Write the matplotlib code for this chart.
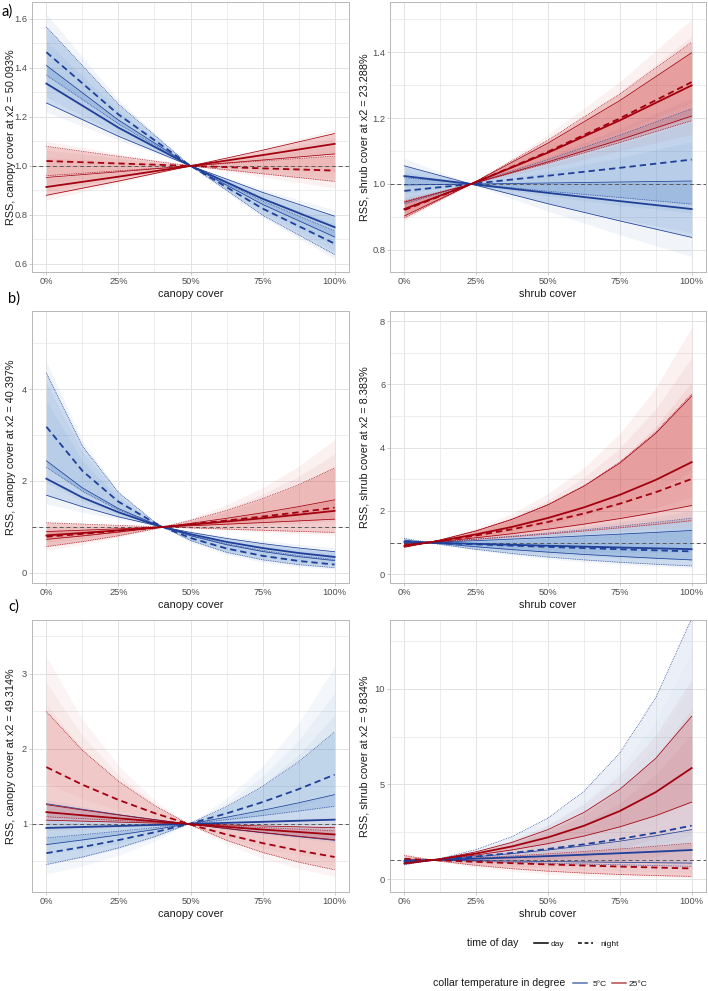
import numpy as np
import matplotlib.pyplot as plt
from matplotlib.lines import Line2D

plt.rcParams['font.family'] = ['Liberation Sans', 'DejaVu Sans']

X5 = [0, 25, 50, 75, 100]
X9 = [0, 12.5, 25, 37.5, 50, 62.5, 75, 87.5, 100]

# each group: [mean, quantile line 1, quantile line 2]; env: [lower, upper] of the bootstrap fan
# a) canopy, x2 = 50.093
a_can_blue_day = [[1.336, 1.156, 1.0, 0.866, 0.750], [1.410, 1.187, 1.0, 0.843, 0.710], [1.257, 1.121, 1.0, 0.892, 0.795]]
a_can_blue_night = [[1.464, 1.210, 1.0, 0.826, 0.683], [1.567, 1.252, 1.0, 0.799, 0.638], [1.371, 1.171, 1.0, 0.857, 0.735]]
a_can_red_day = [[0.914, 0.956, 1.0, 1.044, 1.090], [0.880, 0.938, 1.0, 1.064, 1.132], [0.953, 0.976, 1.0, 1.024, 1.049]]
a_can_red_night = [[1.020, 1.010, 1.0, 0.990, 0.981], [1.080, 1.039, 1.0, 0.968, 0.937], [0.960, 0.980, 1.0, 1.020, 1.040]]
a_can_blue_env = [[1.22, 1.105, 1.0, 0.79, 0.62], [1.62, 1.27, 1.0, 0.905, 0.82]]
a_can_red_env = [[0.86, 0.93, 1.0, 0.955, 0.91], [1.10, 1.05, 1.0, 1.07, 1.15]]

# a) shrub, x2 = 23.288
a_shr_blue_day = [[1.024, 0.998, 0.973, 0.948, 0.924], [1.055, 0.996, 0.940, 0.888, 0.838], [0.997, 1.000, 1.003, 1.006, 1.009]]
a_shr_blue_night = [[0.979, 1.002, 1.025, 1.049, 1.074], [0.940, 1.005, 1.074, 1.148, 1.228], [1.019, 0.999, 0.978, 0.959, 0.939]]
a_shr_red_day = [[0.924, 1.006, 1.095, 1.193, 1.299], [0.903, 1.008, 1.124, 1.253, 1.398], [0.945, 1.004, 1.067, 1.134, 1.206]]
a_shr_red_night = [[0.921, 1.006, 1.098, 1.199, 1.309], [0.897, 1.008, 1.133, 1.273, 1.430], [0.948, 1.004, 1.063, 1.126, 1.192]]
a_shr_blue_env = [[0.93, 0.994, 0.917, 0.846, 0.78], [1.078, 1.006, 1.083, 1.169, 1.26]]
a_shr_red_env = [[0.89, 1.003, 1.05, 1.10, 1.15], [0.96, 1.01, 1.15, 1.31, 1.50]]

# b) canopy, x2 = 40.397
b_can_blue_day = [[2.05, 1.64, 1.32, 1.05, 0.843, 0.675, 0.541, 0.433, 0.347],
                  [2.44, 1.85, 1.40, 1.07, 0.809, 0.614, 0.466, 0.353, 0.268],
                  [1.69, 1.44, 1.22, 1.04, 0.882, 0.750, 0.638, 0.542, 0.461]]
b_can_blue_night = [[3.18, 2.22, 1.55, 1.09, 0.760, 0.531, 0.371, 0.260, 0.181],
                    [4.35, 2.76, 1.75, 1.11, 0.705, 0.447, 0.284, 0.180, 0.114],
                    [2.30, 1.78, 1.37, 1.06, 0.820, 0.634, 0.490, 0.379, 0.293]]
b_can_red_day = [[0.816, 0.869, 0.925, 0.986, 1.049, 1.118, 1.190, 1.267, 1.350],
                 [0.730, 0.805, 0.887, 0.978, 1.078, 1.188, 1.309, 1.442, 1.590],
                 [0.899, 0.929, 0.960, 0.992, 1.026, 1.060, 1.095, 1.132, 1.170]]
b_can_red_night = [[0.788, 0.849, 0.913, 0.983, 1.058, 1.139, 1.226, 1.319, 1.420],
                   [0.572, 0.680, 0.808, 0.961, 1.142, 1.357, 1.614, 1.918, 2.280],
                   [1.090, 1.062, 1.034, 1.006, 0.980, 0.954, 0.928, 0.904, 0.880]]
b_can_blue_env = [[1.50, 1.32, 1.17, 1.03, 0.666, 0.392, 0.231, 0.136, 0.080],
                  [4.60, 2.87, 1.79, 1.12, 0.908, 0.800, 0.707, 0.624, 0.550]]
b_can_red_env = [[0.50, 0.62, 0.768, 0.951, 0.968, 0.929, 0.891, 0.855, 0.820],
                 [1.12, 1.081, 1.044, 1.008, 1.187, 1.484, 1.855, 2.32, 2.90]]

# b) shrub, x2 = 8.383
b_shr_blue_day = [[1.022, 0.989, 0.958, 0.928, 0.898, 0.870, 0.842, 0.816, 0.790],
                  [1.076, 0.965, 0.865, 0.776, 0.696, 0.624, 0.560, 0.502, 0.450],
                  [0.971, 1.015, 1.060, 1.108, 1.158, 1.210, 1.264, 1.320, 1.380]]
b_shr_blue_night = [[1.031, 0.985, 0.942, 0.901, 0.861, 0.824, 0.788, 0.753, 0.720],
                    [1.131, 0.941, 0.783, 0.652, 0.542, 0.451, 0.375, 0.313, 0.260],
                    [0.949, 1.026, 1.109, 1.199, 1.296, 1.401, 1.515, 1.637, 1.770]]
b_shr_red_day = [[0.891, 1.058, 1.258, 1.494, 1.776, 2.110, 2.507, 2.979, 3.540],
                 [0.854, 1.081, 1.368, 1.732, 2.190, 2.780, 3.510, 4.450, 5.630],
                 [0.932, 1.035, 1.151, 1.279, 1.422, 1.581, 1.757, 1.952, 2.170]]
b_shr_red_night = [[0.904, 1.051, 1.221, 1.419, 1.650, 1.917, 2.228, 2.590, 3.010],
                   [0.853, 1.081, 1.371, 1.738, 2.203, 2.793, 3.540, 4.490, 5.690],
                   [0.953, 1.024, 1.100, 1.182, 1.269, 1.363, 1.464, 1.573, 1.690]]
b_shr_blue_env = [[0.939, 0.930, 0.747, 0.600, 0.481, 0.387, 0.310, 0.249, 0.200],
                  [1.159, 1.032, 1.134, 1.246, 1.370, 1.506, 1.655, 1.820, 2.000]]
b_shr_red_env = [[0.829, 1.018, 1.076, 1.138, 1.202, 1.271, 1.343, 1.419, 1.500],
                 [0.964, 1.097, 1.451, 1.921, 2.543, 3.365, 4.450, 5.890, 7.800]]

# c) canopy, x2 = 49.314
c_can_blue_day = [[0.947, 0.960, 0.973, 0.987, 1.001, 1.015, 1.029, 1.043, 1.058],
                  [0.725, 0.787, 0.854, 0.926, 1.004, 1.090, 1.182, 1.282, 1.391],
                  [1.270, 1.196, 1.125, 1.059, 0.997, 0.938, 0.883, 0.831, 0.782]]
c_can_blue_night = [[0.611, 0.693, 0.785, 0.889, 1.007, 1.141, 1.292, 1.464, 1.658],
                    [0.459, 0.559, 0.681, 0.830, 1.011, 1.232, 1.500, 1.828, 2.227],
                    [0.814, 0.857, 0.903, 0.952, 1.003, 1.057, 1.113, 1.173, 1.236]]
c_can_red_day = [[1.158, 1.116, 1.075, 1.036, 0.998, 0.962, 0.926, 0.893, 0.860],
                 [1.258, 1.187, 1.120, 1.056, 0.997, 0.941, 0.887, 0.837, 0.790],
                 [1.051, 1.038, 1.025, 1.012, 0.999, 0.987, 0.974, 0.962, 0.950]]
c_can_red_night = [[1.758, 1.524, 1.321, 1.145, 0.992, 0.860, 0.745, 0.646, 0.560],
                   [2.499, 1.982, 1.571, 1.245, 0.987, 0.783, 0.621, 0.492, 0.390],
                   [1.096, 1.071, 1.046, 1.022, 0.999, 0.976, 0.953, 0.931, 0.910]]
c_can_blue_env = [[0.333, 0.440, 0.581, 0.768, 0.996, 0.928, 0.864, 0.805, 0.750],
                  [1.323, 1.232, 1.148, 1.069, 1.015, 1.342, 1.774, 2.345, 3.100]]
c_can_red_env = [[0.911, 0.933, 0.955, 0.978, 0.984, 0.731, 0.543, 0.404, 0.300],
                 [3.23, 2.40, 1.78, 1.32, 1.001, 1.025, 1.049, 1.074, 1.100]]

# c) shrub, x2 = 9.834
c_shr_blue_day = [[0.955, 1.013, 1.074, 1.139, 1.209, 1.282, 1.360, 1.442, 1.530],
                  [0.901, 1.029, 1.174, 1.341, 1.531, 1.747, 1.995, 2.277, 2.600],
                  [1.019, 0.995, 0.971, 0.948, 0.925, 0.903, 0.882, 0.861, 0.840]]
c_shr_blue_night = [[0.893, 1.031, 1.190, 1.373, 1.585, 1.829, 2.110, 2.435, 2.810],
                    [0.752, 1.081, 1.553, 2.232, 3.209, 4.613, 6.630, 9.530, 13.70],
                    [1.045, 0.988, 0.935, 0.884, 0.837, 0.791, 0.749, 0.708, 0.670]]
c_shr_red_day = [[0.825, 1.054, 1.346, 1.718, 2.195, 2.803, 3.580, 4.572, 5.840],
                 [0.791, 1.066, 1.435, 1.932, 2.603, 3.504, 4.720, 6.350, 8.560],
                 [0.858, 1.042, 1.265, 1.536, 1.865, 2.264, 2.748, 3.336, 4.050]]
c_shr_red_night = [[1.065, 0.983, 0.907, 0.837, 0.772, 0.713, 0.658, 0.607, 0.560],
                   [1.239, 0.943, 0.718, 0.547, 0.416, 0.317, 0.241, 0.184, 0.140],
                   [0.933, 1.019, 1.113, 1.216, 1.328, 1.450, 1.584, 1.730, 1.890]]
c_shr_blue_env = [[0.75, 0.965, 0.817, 0.691, 0.585, 0.495, 0.419, 0.355, 0.300],
                  [1.14, 1.081, 1.559, 2.247, 3.24, 4.67, 6.73, 9.71, 14.0]]
c_shr_red_env = [[0.774, 0.915, 0.604, 0.399, 0.263, 0.174, 0.115, 0.076, 0.050],
                 [1.386, 1.072, 1.485, 2.057, 2.85, 3.948, 5.47, 7.58, 10.5]]

x_ticks = [0, 25, 50, 75, 100]
x_ticklabels = ["0%", "25%", "50%", "75%", "100%"]

BLUE = "#1f3f98"
RED = "#a3000f"
BLUE_FILL = "#3b78c2"
RED_FILL = "#cf3a3a"
GRID = "#e3e3e3"
BORDER = "#b8b8b8"
TXT = "#1a1a1a"


def with_ref(xs, ys, x2):
    xx = np.array(list(xs) + [x2])
    yy = np.array(list(ys) + [1.0])
    o = np.argsort(xx, kind="stable")
    return xx[o], yy[o]


def draw_panel(ax, xs, x2, blue_day, blue_night, red_day, red_night, blue_env, red_env,
               ylim, yticks, ylabels, yminor, ylabel, xlabel, label_x,
               env_alpha=(0.07, 0.07), band_alpha=(0.2, 0.2)):
    # faint bootstrap fans, layered so they fade towards the outer edge
    for env, col, a in [(blue_env, BLUE_FILL, env_alpha[0]), (red_env, RED_FILL, env_alpha[1])]:
        xx, lo = with_ref(xs, env[0], x2)
        _, hi = with_ref(xs, env[1], x2)
        mid = (lo + hi) / 2
        for t in (0.0, 0.3, 0.55):
            ax.fill_between(xx, lo + t * (mid - lo), hi - t * (hi - mid), color=col, alpha=a, lw=0)
    for grp, col, a in [(blue_day, BLUE_FILL, band_alpha[0]), (blue_night, BLUE_FILL, band_alpha[0]),
                        (red_day, RED_FILL, band_alpha[1]), (red_night, RED_FILL, band_alpha[1])]:
        xx, q1 = with_ref(xs, grp[1], x2)
        _, q2 = with_ref(xs, grp[2], x2)
        ax.fill_between(xx, q1, q2, color=col, alpha=a, lw=0)

    ax.axhline(1, color="#5a5a5a", lw=0.7, ls=(0, (4, 3)), zorder=3)

    for grp, col, night in [(blue_day, BLUE, False), (blue_night, BLUE, True),
                            (red_day, RED, False), (red_night, RED, True)]:
        xx, m = with_ref(xs, grp[0], x2)
        ax.plot(xx, m, color=col, lw=1.3, ls=(0, (3.5, 2.2)) if night else "-", zorder=5)
        for q in grp[1:]:
            _, qq = with_ref(xs, q, x2)
            ax.plot(xx, qq, color=col, lw=0.55, ls=(0, (1, 1.3)) if night else "-", zorder=4)

    ax.set_xlim(-5, 105)
    ax.set_ylim(*ylim)
    ax.set_xticks(x_ticks)
    ax.set_xticklabels(x_ticklabels)
    ax.set_xticks([12.5, 37.5, 62.5, 87.5], minor=True)
    ax.set_yticks(yticks)
    ax.set_yticklabels(ylabels)
    ax.set_yticks(yminor, minor=True)
    ax.grid(which="major", color=GRID, lw=0.7)
    ax.grid(which="minor", color=GRID, lw=0.45)
    ax.set_axisbelow(True)
    ax.tick_params(which="major", length=2, width=0.5, color=BORDER, labelsize=6.7, labelcolor="#4d4d4d", pad=1.5)
    ax.tick_params(which="minor", length=0)
    for s in ax.spines.values():
        s.set_color(BORDER)
        s.set_linewidth(0.7)
    ax.set_ylabel(ylabel, fontsize=7.8, color=TXT)
    ax.yaxis.set_label_coords(label_x, 0.5)
    ax.set_xlabel(xlabel, fontsize=7.8, color=TXT, labelpad=2)


fig = plt.figure(figsize=(7.08, 9.91), dpi=100)
W, H = 708, 991


def axes_px(x0, y0, x1, y1):
    return fig.add_axes([x0 / W, 1 - y1 / H, (x1 - x0) / W, (y1 - y0) / H])


ax1 = axes_px(32, 2, 349, 272)
ax2 = axes_px(390, 2, 706, 272)
ax3 = axes_px(32, 311, 349, 583)
ax4 = axes_px(390, 311, 706, 583)
ax5 = axes_px(32, 620, 349, 892)
ax6 = axes_px(390, 620, 706, 892)

# ylabel anchor is the right edge of the rotated text
LX_LEFT = -0.052
LX_RIGHT = -0.064

draw_panel(ax1, X5, 50.093, a_can_blue_day, a_can_blue_night, a_can_red_day, a_can_red_night,
           a_can_blue_env, a_can_red_env, (0.567, 1.669),
           [0.6, 0.8, 1.0, 1.2, 1.4, 1.6], ["0.6", "0.8", "1.0", "1.2", "1.4", "1.6"],
           [0.7, 0.9, 1.1, 1.3, 1.5], "RSS, canopy cover at x2 = 50.093%", "canopy cover", LX_LEFT)
draw_panel(ax2, X5, 23.288, a_shr_blue_day, a_shr_blue_night, a_shr_red_day, a_shr_red_night,
           a_shr_blue_env, a_shr_red_env, (0.733, 1.552),
           [0.8, 1.0, 1.2, 1.4], ["0.8", "1.0", "1.2", "1.4"],
           [0.9, 1.1, 1.3, 1.5], "RSS, shrub cover at x2 = 23.288%", "shrub cover", LX_RIGHT)
draw_panel(ax3, X9, 40.397, b_can_blue_day, b_can_blue_night, b_can_red_day, b_can_red_night,
           b_can_blue_env, b_can_red_env, (-0.22, 5.70),
           [0, 2, 4], ["0", "2", "4"], [1, 3, 5],
           "RSS, canopy cover at x2 = 40.397%", "canopy cover", LX_LEFT)
draw_panel(ax4, X9, 8.383, b_shr_blue_day, b_shr_blue_night, b_shr_red_day, b_shr_red_night,
           b_shr_blue_env, b_shr_red_env, (-0.28, 8.32),
           [0, 2, 4, 6, 8], ["0", "2", "4", "6", "8"], [1, 3, 5, 7],
           "RSS, shrub cover at x2 = 8.383%", "shrub cover", LX_RIGHT)
draw_panel(ax5, X9, 49.314, c_can_blue_day, c_can_blue_night, c_can_red_day, c_can_red_night,
           c_can_blue_env, c_can_red_env, (0.093, 3.72),
           [1, 2, 3], ["1", "2", "3"], [0.5, 1.5, 2.5, 3.5],
           "RSS, canopy cover at x2 = 49.314%", "canopy cover", LX_LEFT,
           env_alpha=(0.06, 0.05), band_alpha=(0.17, 0.15))
draw_panel(ax6, X9, 9.834, c_shr_blue_day, c_shr_blue_night, c_shr_red_day, c_shr_red_night,
           c_shr_blue_env, c_shr_red_env, (-0.68, 13.63),
           [0, 5, 10], ["0", "5", "10"], [2.5, 7.5, 12.5],
           "RSS, shrub cover at x2 = 9.834%", "shrub cover", LX_RIGHT,
           env_alpha=(0.025, 0.06), band_alpha=(0.08, 0.2))

# panel letters
for lab, px, py in [("a)", 2, 12), ("b)", 8, 299), ("c)", 8, 607)]:
    fig.text(px / W, 1 - py / H, lab, fontsize=10.5, family=["Lato", "DejaVu Sans"], va="center", ha="left")


def key_line(x0, x1, y, **kw):
    fig.add_artist(Line2D([x0 / W, x1 / W], [1 - y / H, 1 - y / H], transform=fig.transFigure, **kw))


# legend: time of day
ly = 943
fig.text(467 / W, 1 - ly / H, "time of day", fontsize=7.6, va="center", ha="left", color=TXT)
key_line(534, 548, ly, color="black", lw=1.1)
fig.text(551 / W, 1 - ly / H, "day", fontsize=6, va="center_baseline", ha="left", color=TXT)
key_line(578, 593, ly, color="black", lw=1.1, ls=(0, (2.5, 1.8)))
fig.text(600 / W, 1 - ly / H, "night", fontsize=6, va="center_baseline", ha="left", color=TXT)

# legend: collar temperature
ly = 983
fig.text(433 / W, 1 - ly / H, "collar temperature in degree", fontsize=7.6, va="center", ha="left", color=TXT)
key_line(573, 587, ly, color="#4f6fb3", lw=1.1)
fig.text(593 / W, 1 - ly / H, "5°C", fontsize=6, va="center_baseline", ha="left", color=TXT)
key_line(612, 626, ly, color="#b34a4a", lw=1.1)
fig.text(629 / W, 1 - ly / H, "25°C", fontsize=6, va="center_baseline", ha="left", color=TXT)

fig.savefig("out.png", dpi=100)
